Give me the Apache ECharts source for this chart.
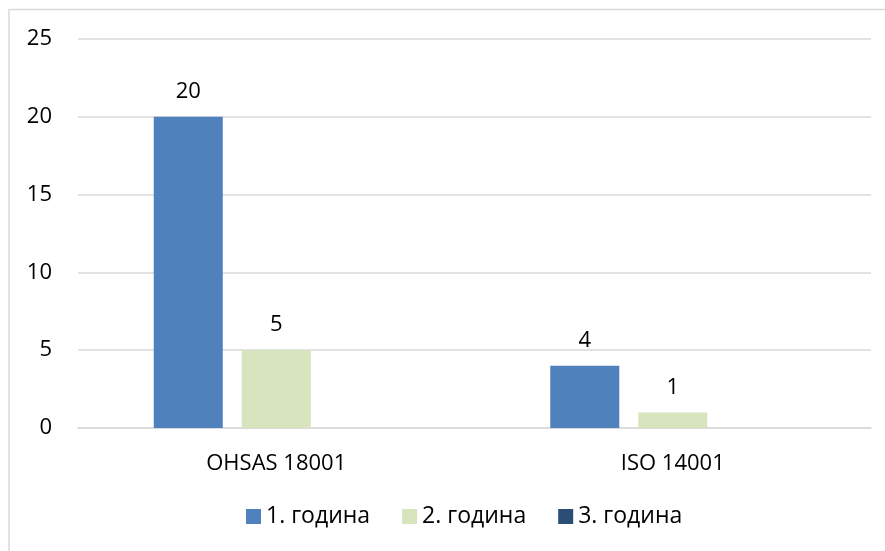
<!DOCTYPE html>
<html>
<head>
<meta charset="utf-8">
<script src="https://cdn.jsdelivr.net/npm/echarts@6/dist/echarts.min.js"></script>
<style>
  html, body { margin: 0; padding: 0; background: #fff; }
  #main { width: 885px; height: 551px; }
</style>
</head>
<body>
<div id="main"></div>
<script>
var categories = ["OHSAS 18001", "ISO 14001"];
var seriesNames = ["1. година", "2. година", "3. година"];
var year1 = [20, 4];
var year2 = [5, 1];
var year3 = [0, 0];
var yTicks = [0, 5, 10, 15, 20, 25];

var colors = ["#4F81BD", "#D7E4BD", "#2C4D75"];
var font = "Open Sans, Liberation Sans, sans-serif";

var myChart = echarts.init(document.getElementById("main"));

function makeSeries(name, data, color) {
  return {
    name: name,
    type: "bar",
    data: data,
    barWidth: 69,
    barGap: "27.5%",
    itemStyle: { color: color },
    label: {
      show: true,
      position: "top",
      distance: 14,
      color: "#000",
      fontSize: 22,
      fontFamily: font,
      formatter: function (p) {
        return p.value === 0 ? "" : p.value;
      },
    },
  };
}

var option = {
  animation: false,
  graphic: [
    {
      type: "rect",
      shape: { x: 9, y: 9.5, width: 900, height: 560 },
      style: { fill: "none", stroke: "#d9d9d9", lineWidth: 1.5 },
      silent: true,
    },
  ],
  grid: { left: 78, right: 14, top: 39, bottom: 123 },
  legend: {
    bottom: 18,
    left: 241,
    itemWidth: 15,
    itemHeight: 15,
    itemGap: 32,
    icon: "rect",
    textStyle: { fontSize: 23, fontFamily: font, color: "#000" },
    data: seriesNames,
  },
  xAxis: {
    type: "category",
    data: categories,
    axisLine: { lineStyle: { color: "#d9d9d9", width: 1.5 } },
    axisTick: { show: false },
    axisLabel: { color: "#000", fontSize: 22, fontFamily: font, margin: 25 },
  },
  yAxis: {
    type: "value",
    min: yTicks[0],
    max: yTicks[yTicks.length - 1],
    interval: 5,
    axisLine: { show: false },
    axisTick: { show: false },
    splitLine: { lineStyle: { color: "#d9d9d9", width: 1.5 } },
    axisLabel: { color: "#000", fontSize: 22, fontFamily: font, margin: 26, align: "right" },
  },
  series: [
    makeSeries(seriesNames[0], year1, colors[0]),
    makeSeries(seriesNames[1], year2, colors[1]),
    makeSeries(seriesNames[2], year3, colors[2]),
  ],
};

option && myChart.setOption(option);
</script>
</body>
</html>
